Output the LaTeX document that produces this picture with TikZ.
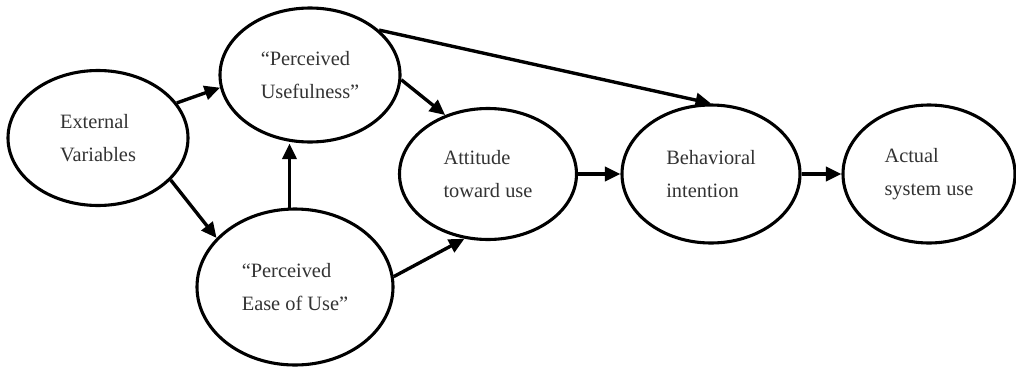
\documentclass[tikz,border=0pt]{standalone}
\usepackage{fontspec}
\setmainfont{Liberation Serif}
\usepackage{tikz}
\usetikzlibrary{arrows, arrows.meta}
\usetikzlibrary{shapes.geometric}

\begin{document}
\begin{tikzpicture}[
    construct/.style={ellipse, draw, line width=2.2pt, inner sep=0pt, align=left,
      text=black!80, font=\fontsize{14.5}{23}\selectfont},
    link/.style={line width=2.4pt, -{Triangle[length=11pt, width=10pt]}}
  ]
    \useasboundingbox (0,0) rectangle (25.4,-9.175);

    \node[construct, minimum width=4.5cm, minimum height=3.375cm] (ev) at (2.45,-3.45) {External\\Variables};
    \node[construct, minimum width=4.5cm, minimum height=3.35cm] (pu) at (7.75,-1.875) {“Perceived\\Usefulness”};
    \node[construct, minimum width=4.9cm, minimum height=3.9cm] (peou) at (7.375,-7.175) {“Perceived\\Ease of Use”};
    \node[construct, minimum width=4.425cm, minimum height=3.275cm] (att) at (12.2,-4.35) {Attitude\\toward use};
    \node[construct, minimum width=4.45cm, minimum height=3.45cm] (bi) at (17.775,-4.35) {Behavioral\\intention};
    \node[construct, minimum width=4.3cm, minimum height=3.45cm] (as) at (23.225,-4.35) {Actual\\system use};

    \draw[link] (ev.24) -- (pu.188);
    \draw[link] (ev.-30) -- (peou.148);
    \draw[link] (peou.94) -- (peou.94 |- pu.south);
    \draw[link] (pu.-3) -- (att.126);
    \draw[link] (pu.33) -- (bi.north);
    \draw[link] (peou.6) -- (att.250);
    \draw[link] (att) -- (bi);
    \draw[link] (bi) -- (as);
  \end{tikzpicture}
\end{document}
